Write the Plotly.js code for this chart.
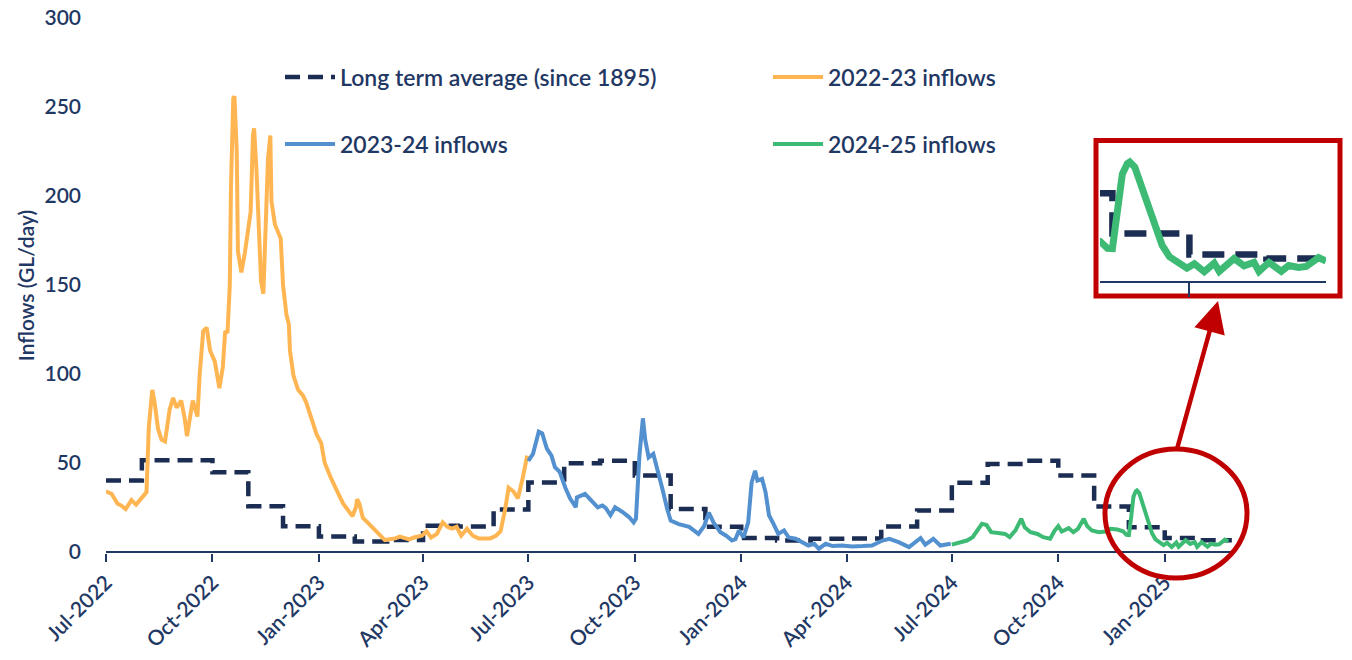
<!DOCTYPE html>
<html>
<head>
<meta charset="utf-8">
<script src="https://cdn.plot.ly/plotly-3.0.1.min.js"></script>
<style>html,body{margin:0;padding:0;background:#fff;}#chart{width:1352px;height:660px;}</style>
</head>
<body>
<div id="chart"></div>
<script>
// Long term average (since 1895), monthly step values
const ltaDates = ['2022-07-01','2022-08-01','2022-09-01','2022-10-01','2022-11-01','2022-12-01',
  '2023-01-01','2023-02-01','2023-03-01','2023-04-01','2023-05-01','2023-06-01',
  '2023-07-01','2023-08-01','2023-09-01','2023-10-01','2023-11-01','2023-12-01',
  '2024-01-01','2024-02-01','2024-03-01','2024-04-01','2024-05-01','2024-06-01',
  '2024-07-01','2024-08-01','2024-09-01','2024-10-01','2024-11-01','2024-12-01',
  '2025-01-01','2025-02-01','2025-02-28'];
const ltaValues = [40,51.5,51.5,44.7,25.6,14.4,
  8.6,5.8,6.6,14.6,14.2,23.8,
  38.9,49.7,51.2,42.8,24.1,14,
  7.8,6.3,7.3,7.5,14.2,23.2,
  38.8,49.3,51.2,42.8,25.4,13.8,
  7.7,6.5,6.5];

// 2022-23 inflows
const flow2223Dates = ['2022-07-01','2022-07-06','2022-07-11','2022-07-14','2022-07-18','2022-07-23','2022-07-27',
  '2022-08-01','2022-08-05','2022-08-07','2022-08-10','2022-08-12','2022-08-15','2022-08-18','2022-08-21','2022-08-25','2022-08-28','2022-08-31',
  '2022-09-04','2022-09-07','2022-09-09','2022-09-14','2022-09-18','2022-09-20','2022-09-23','2022-09-26','2022-09-29',
  '2022-10-03','2022-10-07','2022-10-10','2022-10-12','2022-10-14','2022-10-16','2022-10-17','2022-10-19','2022-10-20','2022-10-22','2022-10-23','2022-10-26','2022-10-29',
  '2022-11-01','2022-11-03','2022-11-05','2022-11-06','2022-11-08','2022-11-10','2022-11-12','2022-11-14','2022-11-16','2022-11-18','2022-11-20','2022-11-21','2022-11-24','2022-11-27','2022-11-29',
  '2022-12-01','2022-12-04','2022-12-06','2022-12-07','2022-12-10','2022-12-14','2022-12-18','2022-12-21','2022-12-26','2022-12-30',
  '2023-01-03','2023-01-06','2023-01-11','2023-01-15','2023-01-19','2023-01-22','2023-01-26','2023-01-30',
  '2023-02-02','2023-02-03','2023-02-05','2023-02-08','2023-02-12','2023-02-16','2023-02-20','2023-02-24','2023-02-27',
  '2023-03-03','2023-03-08','2023-03-12','2023-03-16','2023-03-20','2023-03-24','2023-03-28','2023-03-31',
  '2023-04-04','2023-04-08','2023-04-13','2023-04-18','2023-04-22','2023-04-26','2023-04-30',
  '2023-05-04','2023-05-09','2023-05-14','2023-05-19','2023-05-24','2023-05-29',
  '2023-06-03','2023-06-07','2023-06-11','2023-06-14','2023-06-18','2023-06-22','2023-06-26','2023-06-30'];
const flow2223Values = [34,32.5,27,26,24,29,26.5,
  30.5,33.5,70,91,84,69,63,62,80,86.5,81,
  85,75,65,85,76,100,124,126,113,
  107,92,104,124,123,150,205,255,256,225,169,157,168,
  184,191,234,238,215,188,152,145,178,221,234,197,184,179,176,
  150,133,128,113,99,91,88,84,74,66,
  61,50,42,37,31,27,23,20,
  25,29.5,27,19,16.5,14,11,8.5,6.5,
  7,7.5,8.5,8,7,8,8.5,9,
  11.5,8,10,16.5,14,13,14,
  9,13,9,7.5,7.5,7.5,
  9,11.5,24,36,34,30,41,54];

// 2023-24 inflows
const flow2324Dates = ['2023-07-01','2023-07-05','2023-07-10','2023-07-13','2023-07-17','2023-07-21','2023-07-24','2023-07-28',
  '2023-08-02','2023-08-06','2023-08-11','2023-08-12','2023-08-19','2023-08-25','2023-08-30',
  '2023-09-03','2023-09-06','2023-09-10','2023-09-14','2023-09-20','2023-09-26','2023-09-30',
  '2023-10-02','2023-10-05','2023-10-08','2023-10-10','2023-10-13','2023-10-17','2023-10-20','2023-10-25','2023-10-29',
  '2023-11-01','2023-11-08','2023-11-17','2023-11-21','2023-11-25','2023-11-30',
  '2023-12-04','2023-12-08','2023-12-14','2023-12-19','2023-12-24','2023-12-27','2023-12-30',
  '2024-01-03','2024-01-07','2024-01-10','2024-01-13','2024-01-15','2024-01-19','2024-01-22','2024-01-25','2024-01-29',
  '2024-02-02','2024-02-07','2024-02-11','2024-02-17','2024-02-23','2024-02-28',
  '2024-03-04','2024-03-08','2024-03-14','2024-03-20','2024-03-28',
  '2024-04-06','2024-04-15','2024-04-23',
  '2024-05-02','2024-05-08','2024-05-16','2024-05-25',
  '2024-06-04','2024-06-08','2024-06-15','2024-06-21','2024-06-30'];
const flow2324Values = [51,55,67.5,66.5,58,54,47.5,45,
  36,30,25,30.5,32.5,28,25,
  26,24.5,20.5,25,22.5,19.5,16.5,
  18.5,54,75,63,53,55,48,35,24,
  17.5,15.5,14,12,10,14.5,
  22,16.5,11,9,6.3,7,12,
  8,16.5,39,45.5,40,41,33.5,20.5,15.5,
  10,12,8,7.3,5.5,3.5,
  4.5,1.7,4.5,3.2,3.5,
  3,3.2,3.5,
  6.3,7.3,5.4,2.6,
  7.7,4,7.3,3.5,4.5];

// 2024-25 inflows
const flow2425Dates = ['2024-07-01','2024-07-08','2024-07-14','2024-07-19','2024-07-24','2024-07-27','2024-07-31',
  '2024-08-04','2024-08-10','2024-08-16','2024-08-20','2024-08-25','2024-08-30',
  '2024-09-02','2024-09-07','2024-09-13','2024-09-18','2024-09-24','2024-09-28',
  '2024-10-01','2024-10-04','2024-10-10','2024-10-14','2024-10-18','2024-10-23','2024-10-26','2024-10-30',
  '2024-11-05','2024-11-11','2024-11-15','2024-11-21','2024-11-26','2024-11-29',
  '2024-12-01','2024-12-03','2024-12-05','2024-12-07','2024-12-08','2024-12-10','2024-12-12','2024-12-15','2024-12-17','2024-12-19','2024-12-21','2024-12-24','2024-12-27','2024-12-31',
  '2025-01-03','2025-01-07','2025-01-11','2025-01-13','2025-01-19','2025-01-23','2025-01-27','2025-01-29',
  '2025-02-02','2025-02-07','2025-02-10','2025-02-14','2025-02-17','2025-02-22','2025-02-25'];
const flow2425Values = [4,5,6.3,8.2,13,15.7,15,
  11,10.6,10,8.2,12,18.5,
  13.8,11,10,8.2,7.3,12,
  14.4,11.4,13.3,11,12.9,18.5,14.4,12,
  11,11.4,12.9,12.5,11.5,9.5,
  9.4,19.6,31,34,34.5,33,29,23,19,15.5,10.4,7,5.4,3.7,
  5,2.7,5.2,2.8,6.5,4.4,5.4,2.8,
  5.4,2.8,4.5,3.9,4.2,6.8,5.8];

const seriesNames = ['Long term average (since 1895)','2022-23 inflows','2023-24 inflows','2024-25 inflows'];
const seriesColors = ['#1b2d52','#ffb652','#5290cf','#3dbb74'];

const navy = '#1f3864';
const fontFam = 'Lato, "Open Sans", sans-serif';

const traces = [
  {x: ltaDates, y: ltaValues, name: seriesNames[0], mode: 'lines', line: {shape: 'hv', color: seriesColors[0], width: 4.5, dash: '15px,8px'}, legend: 'legend', xaxis: 'x', yaxis: 'y'},
  {x: flow2223Dates, y: flow2223Values, name: seriesNames[1], mode: 'lines', line: {color: seriesColors[1], width: 4}, legend: 'legend', xaxis: 'x', yaxis: 'y'},
  {x: flow2324Dates, y: flow2324Values, name: seriesNames[2], mode: 'lines', line: {color: seriesColors[2], width: 4}, legend: 'legend2', xaxis: 'x', yaxis: 'y'},
  {x: flow2425Dates, y: flow2425Values, name: seriesNames[3], mode: 'lines', line: {color: seriesColors[3], width: 4}, legend: 'legend2', xaxis: 'x', yaxis: 'y'},
  // inset (zoomed view of the same data)
  {x: ltaDates, y: ltaValues, mode: 'lines', showlegend: false, hoverinfo: 'skip', line: {shape: 'hv', color: seriesColors[0], width: 6.5, dash: '22px,11px'}, xaxis: 'x2', yaxis: 'y2'},
  {x: flow2425Dates, y: flow2425Values, mode: 'lines', showlegend: false, hoverinfo: 'skip', line: {color: seriesColors[3], width: 7}, xaxis: 'x2', yaxis: 'y2'}
];

const plotW = 1352 - 106 - 10;
const plotH = 660 - 18 - 107;
const px = v => (v - 106) / plotW;
const py = v => (553 - v) / plotH;

const tickFont = {size: 21, color: navy, family: fontFam, weight: 600};
const legendFont = {size: 23, color: navy, family: fontFam, weight: 600};

const layout = {
  width: 1352, height: 660,
  margin: {l: 106, r: 10, t: 18, b: 107, autoexpand: false},
  paper_bgcolor: '#ffffff', plot_bgcolor: 'rgba(0,0,0,0)',
  font: {family: fontFam, color: navy, size: 20},
  showlegend: true,
  xaxis: {
    type: 'date', anchor: 'y', domain: [0, px(1233)], range: ['2022-07-01', '2025-03-01'],
    tickmode: 'linear', tick0: '2022-07-01', dtick: 'M3', tickformat: '%b-%Y', tickangle: -45,
    showline: false, ticks: 'outside', ticklen: 8, tickwidth: 2, tickcolor: navy,
    showgrid: false, zeroline: false, tickfont: tickFont
  },
  yaxis: {
    anchor: 'x', range: [-0.7, 300], dtick: 50, showgrid: false, showline: false,
    zeroline: true, zerolinecolor: navy, zerolinewidth: 2,
    ticks: '', ticklabelstandoff: 24, tickfont: tickFont,
    title: {text: 'Inflows (GL/day)', font: {size: 21, color: navy, family: fontFam, weight: 600}, standoff: 4}
  },
  xaxis2: {
    type: 'date', anchor: 'y2', domain: [px(1100), px(1326)], range: ['2024-11-26', '2025-02-25'],
    tickmode: 'array', tickvals: ['2025-01-01'], showticklabels: false,
    showline: true, linecolor: navy, linewidth: 2, ticks: 'outside', ticklen: 14, tickwidth: 2, tickcolor: navy,
    showgrid: false, zeroline: false
  },
  yaxis2: {
    anchor: 'x2', domain: [py(281), py(143)], range: [0, 40],
    showgrid: false, zeroline: false, showline: false, showticklabels: false, ticks: ''
  },
  legend: {
    orientation: 'h', x: px(280), y: py(77), xanchor: 'left', yanchor: 'middle',
    entrywidth: 423, entrywidthmode: 'pixels', bgcolor: 'rgba(0,0,0,0)',
    font: legendFont, itemwidth: 50
  },
  legend2: {
    orientation: 'h', x: px(280), y: py(144), xanchor: 'left', yanchor: 'middle',
    entrywidth: 423, entrywidthmode: 'pixels', bgcolor: 'rgba(0,0,0,0)',
    font: legendFont, itemwidth: 50
  },
  shapes: [
    {type: 'rect', xref: 'paper', yref: 'paper', x0: px(1096), x1: px(1340), y0: py(296), y1: py(140.5),
     line: {color: '#c00000', width: 5}, fillcolor: '#ffffff', layer: 'below'},
    {type: 'circle', xref: 'paper', yref: 'paper', x0: px(1105), x1: px(1247), y0: py(578), y1: py(449),
     line: {color: '#c00000', width: 5}, layer: 'above'}
  ],
  annotations: [
    {xref: 'paper', yref: 'paper', x: px(1218), y: py(301), text: '', showarrow: true,
     ax: -41, ay: 148, arrowhead: 2, arrowsize: 1.4, arrowwidth: 4.5, arrowcolor: '#c00000'}
  ]
};

Plotly.newPlot('chart', traces, layout, {displayModeBar: false, responsive: false});
</script>
</body>
</html>
